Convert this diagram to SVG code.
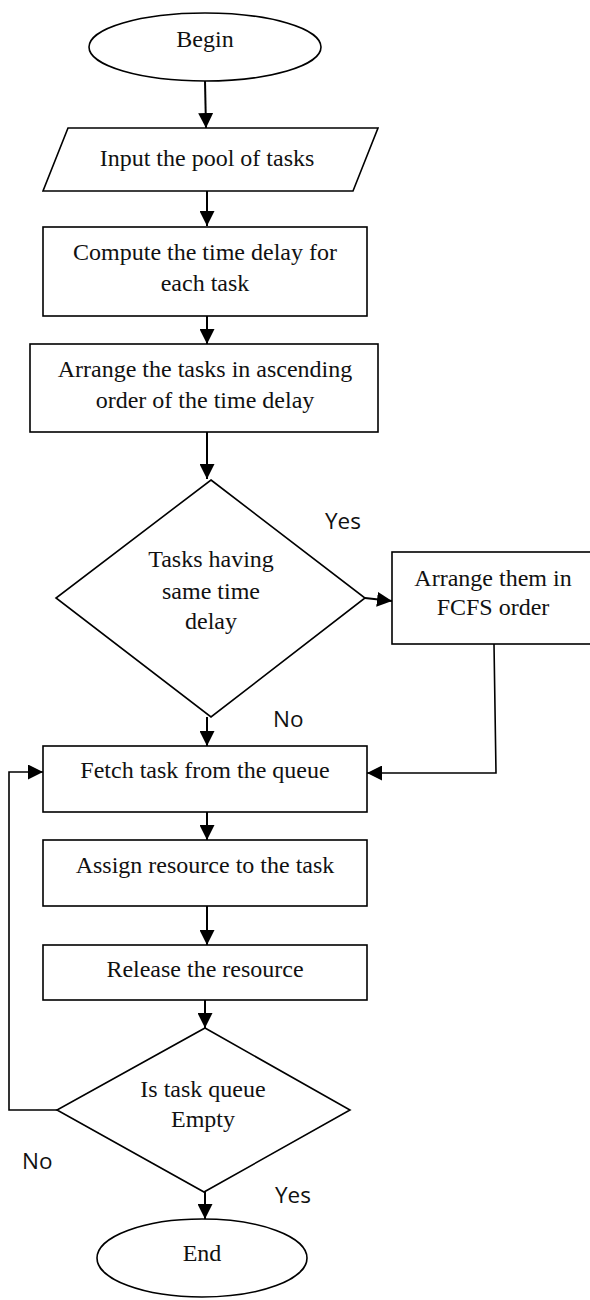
<svg xmlns="http://www.w3.org/2000/svg" width="590" height="1300" viewBox="0 0 590 1300">
<style>
.shape{fill:#fff;stroke:#000;stroke-width:1.6}
.t{font-family:'Liberation Serif','Times New Roman',serif;font-size:24px;fill:#111;text-anchor:middle}
.lbl{font-family:'Open Sans','Liberation Sans',sans-serif;font-size:22.5px;fill:#111}
.c{fill:none;stroke:#000;stroke-width:2;marker-end:url(#ah)}
.c2{fill:none;stroke:#000;stroke-width:1.6;marker-end:url(#ah)}
</style>
<defs>
<marker id="ah" markerUnits="userSpaceOnUse" markerWidth="15" markerHeight="15" refX="15" refY="7.5" orient="auto">
<path d="M0,0 L15,7.5 L0,15 z" fill="#000"/>
</marker>
</defs>
<rect width="590" height="1300" fill="#fff"/>
<g id="connectors">
<path class="c" d="M205,81 L206,128"/>
<path class="c" d="M207,191 L207,226"/>
<path class="c" d="M207,316 L207,344"/>
<path class="c" d="M207,432 L207,479"/>
<path class="c" d="M365,598 L392,601"/>
<path class="c" d="M207,717 L207,746"/>
<path class="c2" d="M494,644 L496,773 L367,773"/>
<path class="c" d="M207,812 L207,840"/>
<path class="c" d="M207,906 L207,945"/>
<path class="c" d="M205,1000 L205,1028"/>
<path class="c2" d="M57,1110 L9,1110 L9,772 L43,772"/>
<path class="c" d="M205,1192 L205,1219"/>
</g>
<g id="begin">
<ellipse class="shape" cx="205" cy="47" rx="116" ry="34"/>
<text class="t" x="205" y="47">Begin</text>
</g>
<g id="input">
<polygon class="shape" points="68,128 378,128 353,191 43,191"/>
<text class="t" x="207" y="166">Input the pool of tasks</text>
</g>
<g id="compute">
<rect class="shape" x="43" y="227" width="324" height="89"/>
<text class="t" x="205" y="260">Compute the time delay for</text>
<text class="t" x="205" y="291">each task</text>
</g>
<g id="arrange">
<rect class="shape" x="30" y="344" width="348" height="88"/>
<text class="t" x="205" y="377">Arrange the tasks in ascending</text>
<text class="t" x="205" y="408">order of the time delay</text>
</g>
<g id="decision1">
<polygon class="shape" points="211,480 365,598 211,717 56,598"/>
<text class="t" x="211" y="567">Tasks having</text>
<text class="t" x="211" y="599">same time</text>
<text class="t" x="211" y="629">delay</text>
</g>
<g id="fcfs">
<rect class="shape" x="392" y="552" width="200" height="92"/>
<text class="t" x="493" y="586">Arrange them in</text>
<text class="t" x="493" y="615">FCFS order</text>
</g>
<g id="fetch">
<rect class="shape" x="43" y="746" width="324" height="66"/>
<text class="t" x="205" y="778">Fetch task from the queue</text>
</g>
<g id="assign">
<rect class="shape" x="43" y="840" width="324" height="66"/>
<text class="t" x="205" y="873">Assign resource to the task</text>
</g>
<g id="release">
<rect class="shape" x="43" y="945" width="324" height="55"/>
<text class="t" x="205" y="977">Release the resource</text>
</g>
<g id="decision2">
<polygon class="shape" points="205,1028 350,1110 204,1192 57,1110"/>
<text class="t" x="203" y="1097">Is task queue</text>
<text class="t" x="203" y="1127">Empty</text>
</g>
<g id="end">
<ellipse class="shape" cx="202" cy="1258" rx="105" ry="39"/>
<text class="t" x="202" y="1261">End</text>
</g>
<g id="labels">
<text class="lbl" x="325" y="529">Yes</text>
<text class="lbl" x="273" y="727">No</text>
<text class="lbl" x="22" y="1169">No</text>
<text class="lbl" x="275" y="1203">Yes</text>
</g>
</svg>
